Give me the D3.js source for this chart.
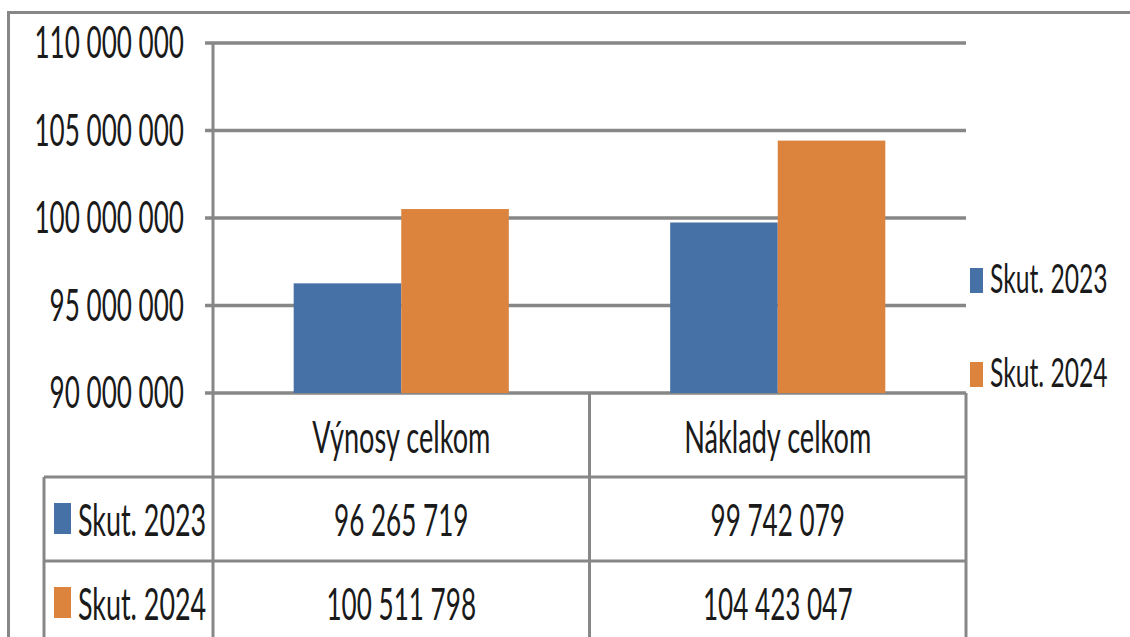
<!DOCTYPE html>
<html>
<head>
<meta charset="utf-8">
<script src="https://cdn.jsdelivr.net/npm/d3@7"></script>
<style>
  html, body { margin: 0; padding: 0; background: #fff; }
  text { font-family: Lato, "DejaVu Sans Condensed", sans-serif; font-weight: 400; fill: #1a1a1a; }
</style>
</head>
<body>
<div id="chart"></div>
<script>
let categories = ["Výnosy celkom", "Náklady celkom"];
let series = ["Skut. 2023", "Skut. 2024"];
let values_2023 = [96265719, 99742079];
let values_2024 = [100511798, 104423047];
let y_ticks = [90000000, 95000000, 100000000, 105000000, 110000000];

let colors = ["#4571a6", "#dc843d"];
let grid_color = "#878787";
let width = 1130;
let height = 637;

// plot area
let plot_left = 213, plot_right = 966, plot_top = 43, plot_bottom = 393;
let row_h = 84;
let font_size = 45;
let squeeze = 0.58;

// thousands separated by spaces
function fmt(v) {
  return d3.format(",")(v).replace(/,/g, " ");
}

let svg = d3.select("#chart")
  .append("svg")
  .attr("width", width)
  .attr("height", height)
  .style("display", "block");

svg.append("rect").attr("width", width).attr("height", height).attr("fill", "#fff");

function label(x, y, str, anchor, scale, wide) {
  let s = scale || 1;
  let w = wide || 1;
  return svg.append("text")
    .attr("transform", "translate(" + x + "," + y + ") scale(" + (squeeze * s * w) + "," + s + ")")
    .attr("text-anchor", anchor)
    .style("font-size", font_size + "px")
    .text(str);
}

let y = d3.scaleLinear()
  .domain([y_ticks[0], y_ticks[y_ticks.length - 1]])
  .range([plot_bottom, plot_top]);

let x0 = d3.scaleBand()
  .domain(categories)
  .range([plot_left, plot_right])
  .padding(0);

let x1 = d3.scaleBand()
  .domain(series)
  .range([0, x0.bandwidth()])
  .paddingInner(0)
  .paddingOuter(0.75);

// outer frame of chart
svg.append("line")
  .attr("x1", 8).attr("x2", width).attr("y1", 12.5).attr("y2", 12.5)
  .attr("stroke", grid_color).attr("stroke-width", 3);
svg.append("line")
  .attr("x1", 8.5).attr("x2", 8.5).attr("y1", 11).attr("y2", height)
  .attr("stroke", grid_color).attr("stroke-width", 3);

// gridlines + tick labels
svg.append("g").selectAll("line")
  .data(y_ticks)
  .enter().append("line")
  .attr("x1", plot_left - 8).attr("x2", plot_right)
  .attr("y1", d => y(d)).attr("y2", d => y(d))
  .attr("stroke", grid_color).attr("stroke-width", 3.5);

y_ticks.forEach(function(t) {
  label(184, y(t) + 15, fmt(t), "end");
});

// bars
let data = categories.map(function(c, i) {
  return { cat: c, vals: [values_2023[i], values_2024[i]] };
});

svg.append("g").selectAll("g")
  .data(data)
  .enter().append("g")
  .attr("transform", d => "translate(" + x0(d.cat) + ",0)")
  .selectAll("rect")
  .data(d => d.vals.map((v, j) => ({ s: series[j], v: v, j: j })))
  .enter().append("rect")
  .attr("x", d => x1(d.s))
  .attr("width", x1.bandwidth())
  .attr("y", d => y(d.v))
  .attr("height", d => y(y_ticks[0]) - y(d.v))
  .attr("fill", d => colors[d.j]);

// data table
let table_bottom = plot_bottom + row_h * 3;
let v_lines = [plot_left, x0(categories[1]), plot_right];
v_lines.forEach(function(xv, i) {
  svg.append("line")
    .attr("x1", xv).attr("x2", xv)
    .attr("y1", i == 0 ? plot_top : plot_bottom).attr("y2", table_bottom)
    .attr("stroke", grid_color).attr("stroke-width", 3);
});
svg.append("line")
  .attr("x1", 44).attr("x2", 44)
  .attr("y1", plot_bottom + row_h).attr("y2", table_bottom)
  .attr("stroke", grid_color).attr("stroke-width", 3);
[1, 2, 3].forEach(function(r) {
  svg.append("line")
    .attr("x1", 44).attr("x2", plot_right)
    .attr("y1", plot_bottom + row_h * r).attr("y2", plot_bottom + row_h * r)
    .attr("stroke", grid_color).attr("stroke-width", 3);
});

// category names
categories.forEach(function(c) {
  label(x0(c) + x0.bandwidth() / 2, plot_bottom + 60, c, "middle", 1, 1.04);
});

// rows
let rows = [values_2023, values_2024];
rows.forEach(function(vals, r) {
  let base = plot_bottom + row_h * (r + 1);
  svg.append("rect")
    .attr("x", 54).attr("y", base + 26)
    .attr("width", 17).attr("height", 31)
    .attr("fill", colors[r]);
  label(78, base + 59, series[r], "start", 1, 1.03);
  vals.forEach(function(v, i) {
    label(x0(categories[i]) + x0.bandwidth() / 2, base + 59, fmt(v), "middle");
  });
});

// legend on the right
series.forEach(function(s, i) {
  let ly = 268 + i * 94;
  svg.append("rect")
    .attr("x", 970).attr("y", ly)
    .attr("width", 13).attr("height", 25)
    .attr("fill", colors[i]);
  label(990, ly + 25, s, "start", 0.9, 1.05);
});
</script>
</body>
</html>
